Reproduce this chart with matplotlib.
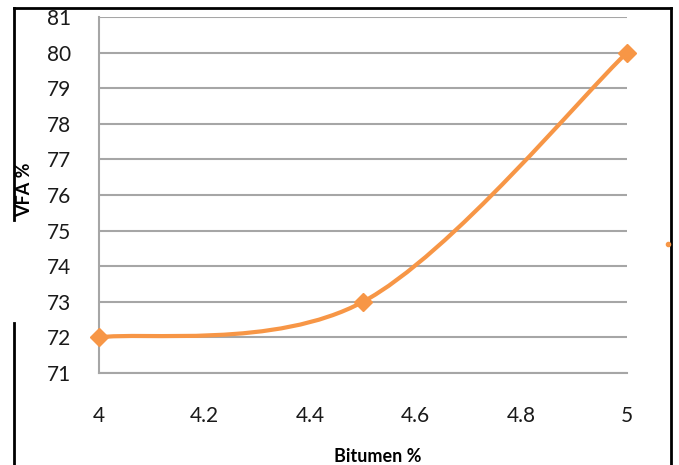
import matplotlib.pyplot as plt
import numpy as np
from matplotlib.path import Path
from matplotlib.patches import PathPatch
from matplotlib.lines import Line2D

bitumen = [4.0, 4.5, 5.0]
vfa = [72, 73, 80]
xticks = [4, 4.2, 4.4, 4.6, 4.8, 5]
yticks = list(range(71, 82))

orange = '#F79646'
grid_c = '#A6A6A6'
plt.rcParams['font.family'] = ['Lato', 'DejaVu Sans']

fig = plt.figure(figsize=(6.79, 4.65), dpi=100)
ax = fig.add_axes([99 / 679, 1 - 373 / 465, 528 / 679, 356 / 465])

# Excel-style smoothed line (Catmull-Rom as cubic Bezier)
pts = np.column_stack([bitumen, vfa])
ext = np.vstack([pts[0], pts, pts[-1]])
verts = [tuple(pts[0])]
codes = [Path.MOVETO]
for i in range(1, len(ext) - 2):
    p0, p1, p2, p3 = ext[i - 1], ext[i], ext[i + 1], ext[i + 2]
    c1 = p1 + (p2 - p0) / 6
    c2 = p2 - (p3 - p1) / 6
    verts += [tuple(c1), tuple(c2), tuple(p2)]
    codes += [Path.CURVE4] * 3
ax.add_patch(PathPatch(Path(verts, codes), fill=False, edgecolor=orange,
                       lw=3, capstyle='round', zorder=3, clip_on=False))
ax.plot(bitumen, vfa, ls='none', marker='D', ms=9, color=orange,
        zorder=4, clip_on=False)

ax.set_xlim(4, 5)
ax.set_ylim(71, 81)
ax.set_xticks(xticks)
ax.set_xticklabels([f'{t:g}' for t in xticks])
ax.set_yticks(yticks)
ax.tick_params(length=0, labelsize=15, colors='#1a1a1a')
ax.tick_params(axis='y', pad=20)
ax.tick_params(axis='x', pad=24)
ax.grid(axis='y', color=grid_c, lw=1.5)
ax.set_axisbelow(True)
for s in ['top', 'right']:
    ax.spines[s].set_visible(False)
for s in ['left', 'bottom']:
    ax.spines[s].set_color(grid_c)
    ax.spines[s].set_linewidth(1.5)

fig.text(378 / 679, 1 - 456 / 465, 'Bitumen %', ha='center', va='center',
         fontsize=13, fontweight='bold')
fig.text(25 / 679, 1 - 190 / 465, 'VFA %', ha='center', va='center',
         rotation=90, fontsize=13, fontweight='bold')

# outer frame (partial, as in the scanned figure)
lx, rx, ty = 14 / 679, 671 / 679, 1 - 8 / 465
for xs, ys in [([lx, rx], [ty, ty]), ([lx, lx], [ty, 1 - 220 / 465]),
               ([lx, lx], [1 - 323 / 465, 0]), ([rx, rx], [ty, 0])]:
    fig.add_artist(Line2D(xs, ys, color='black', lw=2))
fig.add_artist(Line2D([668 / 679], [1 - 244 / 465], marker='o', ms=3,
                      color=orange, ls='none'))

fig.savefig('out.png', dpi=100)
